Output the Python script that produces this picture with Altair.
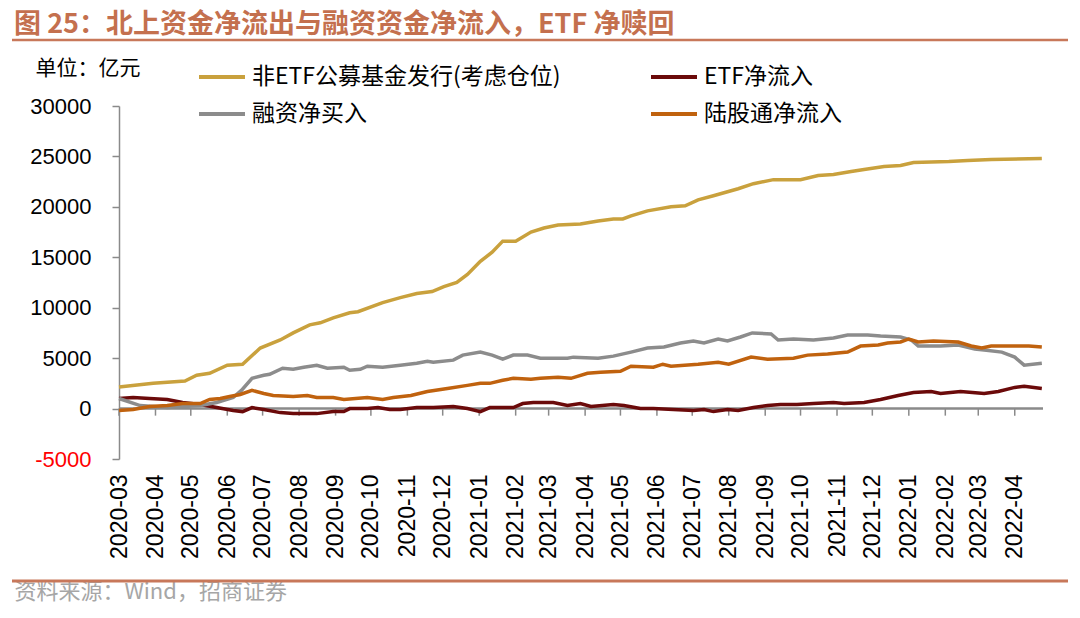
import altair as alt
import pandas as pd

# ---------------- data ----------------
names = ["非ETF公募基金发行(考虑仓位)", "ETF净流入", "融资净买入", "陆股通净流入"]
colors = ["#C9A13D", "#6B0A0A", "#8C8C8C", "#C0620E"]

months = ["2020-03-01", "2020-04-01", "2020-05-01", "2020-06-01", "2020-07-01",
          "2020-08-01", "2020-09-01", "2020-10-01", "2020-11-01", "2020-12-01",
          "2021-01-01", "2021-02-01", "2021-03-01", "2021-04-01", "2021-05-01",
          "2021-06-01", "2021-07-01", "2021-08-01", "2021-09-01", "2021-10-01",
          "2021-11-01", "2021-12-01", "2022-01-01", "2022-02-01", "2022-03-01",
          "2022-04-01"]

fund_dates = ["2020-03-01", "2020-03-30", "2020-04-26", "2020-05-06", "2020-05-17",
              "2020-06-01", "2020-06-14", "2020-06-29", "2020-07-16", "2020-07-27",
              "2020-08-10", "2020-08-19", "2020-08-30", "2020-09-13", "2020-09-20",
              "2020-10-11", "2020-10-26", "2020-11-09", "2020-11-22", "2020-12-02",
              "2020-12-13", "2020-12-22", "2021-01-02", "2021-01-12", "2021-01-21",
              "2021-02-01", "2021-02-14", "2021-02-25", "2021-03-09", "2021-03-28",
              "2021-04-12", "2021-04-25", "2021-05-03", "2021-05-10", "2021-05-24",
              "2021-06-13", "2021-06-25", "2021-07-06", "2021-07-19", "2021-07-31",
              "2021-08-09", "2021-08-22", "2021-09-08", "2021-10-01", "2021-10-16",
              "2021-10-29", "2021-11-13", "2021-11-24", "2021-12-11", "2021-12-25",
              "2022-01-05", "2022-02-04", "2022-02-20", "2022-03-12", "2022-04-24"]
fund_vals = [2130, 2500, 2730, 3300, 3500,
             4300, 4400, 6000, 6800, 7500,
             8300, 8500, 9000, 9500, 9600,
             10500, 11000, 11400, 11600, 12100,
             12500, 13300, 14600, 15500, 16600,
             16600, 17500, 17900, 18200, 18300,
             18600, 18800, 18800, 19100, 19600,
             20000, 20100, 20700, 21100, 21500,
             21800, 22300, 22700, 22700, 23100,
             23200, 23500, 23700, 24000, 24100,
             24400, 24500, 24600, 24700, 24800]

etf_dates = ["2020-03-01", "2020-03-13", "2020-03-27", "2020-04-11", "2020-04-24",
             "2020-05-09", "2020-05-23", "2020-06-06", "2020-06-14", "2020-06-22",
             "2020-07-02", "2020-07-16", "2020-07-27", "2020-08-16", "2020-08-30",
             "2020-09-08", "2020-09-13", "2020-09-28", "2020-10-07", "2020-10-17",
             "2020-10-26", "2020-11-09", "2020-11-23", "2020-12-10", "2020-12-22",
             "2021-01-02", "2021-01-10", "2021-01-30", "2021-02-07", "2021-02-16",
             "2021-03-05", "2021-03-17", "2021-03-28", "2021-04-06", "2021-04-25",
             "2021-05-04", "2021-05-18", "2021-05-29", "2021-06-15", "2021-07-02",
             "2021-07-11", "2021-07-19", "2021-07-31", "2021-08-09", "2021-08-22",
             "2021-09-03", "2021-09-14", "2021-09-28", "2021-10-12", "2021-10-29",
             "2021-11-07", "2021-11-24", "2021-12-08", "2021-12-23", "2022-01-05",
             "2022-01-20", "2022-01-28", "2022-02-14", "2022-03-06", "2022-03-18",
             "2022-04-01", "2022-04-09", "2022-04-24"]
etf_vals = [1000, 1100, 1000, 900, 600,
            400, 100, -200, -300, 100,
            -100, -400, -500, -500, -300,
            -300, 0, 0, 100, -100,
            -100, 100, 100, 200, 0,
            -300, 100, 100, 500, 600,
            600, 300, 500, 200, 400,
            300, 0, 0, -100, -200,
            -100, -300, -100, -200, 100,
            300, 400, 400, 500, 600,
            500, 600, 900, 1300, 1600,
            1700, 1500, 1700, 1500, 1700,
            2100, 2200, 2000]

margin_dates = ["2020-03-01", "2020-03-19", "2020-04-11", "2020-05-09", "2020-05-23",
                "2020-06-06", "2020-06-13", "2020-06-22", "2020-07-02", "2020-07-07",
                "2020-07-18", "2020-07-27", "2020-08-05", "2020-08-16", "2020-08-25",
                "2020-09-08", "2020-09-13", "2020-09-22", "2020-09-28", "2020-10-11",
                "2020-10-26", "2020-11-09", "2020-11-18", "2020-11-23", "2020-12-10",
                "2020-12-18", "2021-01-02", "2021-01-12", "2021-01-21", "2021-01-30",
                "2021-02-11", "2021-02-22", "2021-03-17", "2021-03-22", "2021-04-12",
                "2021-04-25", "2021-05-10", "2021-05-24", "2021-06-07", "2021-06-21",
                "2021-07-02", "2021-07-11", "2021-07-23", "2021-07-31", "2021-08-11",
                "2021-08-21", "2021-09-06", "2021-09-12", "2021-09-25", "2021-10-12",
                "2021-10-29", "2021-11-10", "2021-11-27", "2021-12-08", "2021-12-25",
                "2022-01-03", "2022-01-09", "2022-01-28", "2022-02-12", "2022-02-26",
                "2022-03-06", "2022-03-21", "2022-04-01", "2022-04-09", "2022-04-24"]
margin_vals = [1000, 300, 100, 300, 600,
               1100, 1800, 3000, 3300, 3400,
               4000, 3900, 4100, 4300, 4000,
               4100, 3800, 3900, 4200, 4100,
               4300, 4500, 4700, 4600, 4800,
               5300, 5600, 5300, 4900, 5300,
               5300, 5000, 5000, 5100, 5000,
               5200, 5600, 6000, 6100, 6500,
               6700, 6500, 6900, 6700, 7100,
               7500, 7400, 6800, 6900, 6800,
               7000, 7300, 7300, 7200, 7100,
               6800, 6200, 6200, 6300, 5900,
               5800, 5600, 5100, 4300, 4500]

north_dates = ["2020-03-01", "2020-03-13", "2020-03-27", "2020-04-11", "2020-04-24",
               "2020-05-09", "2020-05-17", "2020-05-26", "2020-06-03", "2020-06-12",
               "2020-06-22", "2020-07-02", "2020-07-10", "2020-07-27", "2020-08-08",
               "2020-08-16", "2020-08-30", "2020-09-08", "2020-09-28", "2020-10-11",
               "2020-10-20", "2020-11-04", "2020-11-18", "2020-12-05", "2020-12-22",
               "2021-01-02", "2021-01-10", "2021-01-21", "2021-01-30", "2021-02-14",
               "2021-02-22", "2021-03-09", "2021-03-20", "2021-04-03", "2021-04-14",
               "2021-05-01", "2021-05-10", "2021-05-29", "2021-06-06", "2021-06-13",
               "2021-07-06", "2021-07-23", "2021-08-01", "2021-08-20", "2021-09-03",
               "2021-09-25", "2021-10-07", "2021-10-24", "2021-11-10", "2021-11-21",
               "2021-12-06", "2021-12-14", "2021-12-25", "2022-01-01", "2022-01-09",
               "2022-01-22", "2022-02-12", "2022-02-23", "2022-03-04", "2022-03-12",
               "2022-04-01", "2022-04-13", "2022-04-24"]
north_vals = [-200, -100, 200, 300, 500,
              500, 900, 1000, 1200, 1400,
              1800, 1500, 1300, 1200, 1300,
              1100, 1100, 900, 1100, 900,
              1100, 1300, 1700, 2000, 2300,
              2500, 2500, 2800, 3000, 2900,
              3000, 3100, 3000, 3500, 3600,
              3700, 4200, 4100, 4400, 4200,
              4400, 4600, 4400, 5100, 4900,
              5000, 5300, 5400, 5600, 6200,
              6300, 6500, 6600, 6900, 6600,
              6700, 6600, 6200, 6000, 6200,
              6200, 6200, 6100]

y_ticks = [-5000, 0, 5000, 10000, 15000, 20000, 25000, 30000]

# ---------------- tables ----------------
rows = []
for name, ds, vs in [(names[0], fund_dates, fund_vals), (names[1], etf_dates, etf_vals),
                     (names[2], margin_dates, margin_vals), (names[3], north_dates, north_vals)]:
    for d, v in zip(ds, vs):
        rows.append({"series": name, "date": d, "value": v})
df = pd.DataFrame(rows)
months_df = pd.DataFrame({"date": months})
one = pd.DataFrame({"k": [0]})

CJK = "Noto Sans CJK SC"
NUM = "Liberation Sans"
AXIS_GRAY = "#8A8A8A"

x_scale = alt.Scale(type="utc", domain=[alt.DateTime(year=2020, month=3, date=1, utc=True),
                                        alt.DateTime(year=2022, month=4, date=25, utc=True)])
x_axis = alt.Axis(format="%Y-%m", tickCount={"interval": "month", "step": 1},
                  labelAngle=270, labelFont=NUM, labelFontSize=23, labelColor="#000000",
                  labelPadding=15, ticks=False, domain=False, grid=False,
                  labelFlush=False, labelOverlap=False,
                  title="资料来源：Wind，招商证券", titleX=-105, titleY=132,
                  titleAlign="left", titleBaseline="middle", titleAngle=0,
                  titleFont=CJK, titleFontSize=22, titleFontWeight="normal",
                  titleColor="#A6A6A6")
y_scale = alt.Scale(domain=[-5000, 30000], nice=False, zero=False)
y_axis = alt.Axis(values=y_ticks, labelExpr="'' + datum.value", grid=False,
                  domainColor=AXIS_GRAY, domainWidth=1.5, tickColor=AXIS_GRAY,
                  tickSize=7, tickWidth=1.5,
                  labelFont=NUM, labelFontSize=22, labelPadding=21,
                  labelColor={"condition": {"test": "datum.value < 0", "value": "#FF0000"},
                              "value": "#000000"},
                  title="单位：亿元", titleAngle=0, titleX=-84, titleY=-38,
                  titleAlign="left", titleBaseline="middle", titleFont=CJK,
                  titleFontSize=21, titleFontWeight="normal", titleColor="#000000")

X = alt.X("date:T", scale=x_scale, axis=x_axis)

zero_line = alt.Chart(one).mark_rule(color=AXIS_GRAY, strokeWidth=2.5).encode(
    y=alt.Y("k:Q", scale=y_scale, axis=y_axis)
)

ticks = alt.Chart(months_df).mark_rule(color=AXIS_GRAY, strokeWidth=1.5).encode(
    x=X, y=alt.datum(0), y2=alt.datum(-700)
)

lines = alt.Chart(df).mark_line(strokeWidth=3.5).encode(
    x=X,
    y=alt.Y("value:Q", scale=y_scale, axis=y_axis),
    color=alt.Color("series:N", sort=names,
                    scale=alt.Scale(domain=names, range=colors),
                    legend=alt.Legend(title=None, orient="none", legendX=78, legendY=-54,
                                      direction="horizontal",
                                      columns=2, columnPadding=82, rowPadding=0,
                                      symbolType="stroke", symbolSize=2116,
                                      symbolStrokeWidth=4, labelFont=CJK,
                                      labelFontSize=23, labelColor="#000000",
                                      labelLimit=700, labelOffset=5, padding=0)),
    order=alt.Order("date:T"),
)

deco_top = alt.Chart(one).mark_rule(color="#C8785A", strokeWidth=2.5).encode(
    x=alt.value(-107), x2=alt.value(949), y=alt.value(-66)
)
deco_bottom = alt.Chart(one).mark_rule(color="#C8785A", strokeWidth=3).encode(
    x=alt.value(-107), x2=alt.value(949), y=alt.value(475)
)

chart = alt.layer(zero_line, ticks, lines, deco_top, deco_bottom).properties(
    width=924, height=353,
    padding={"left": 111, "top": 98, "right": 29, "bottom": 147},
    autosize=alt.AutoSizeParams(type="none"),
    title=alt.TitleParams("图 25：北上资金净流出与融资资金净流入，ETF 净赎回",
                          anchor="start", frame="group", dx=-105, offset=0,
                          font=CJK, fontSize=27, fontWeight="bold", color="#C4704E"),
).configure_view(stroke=None)

chart.save("out.html", embed_options={"renderer": "svg", "actions": False})
